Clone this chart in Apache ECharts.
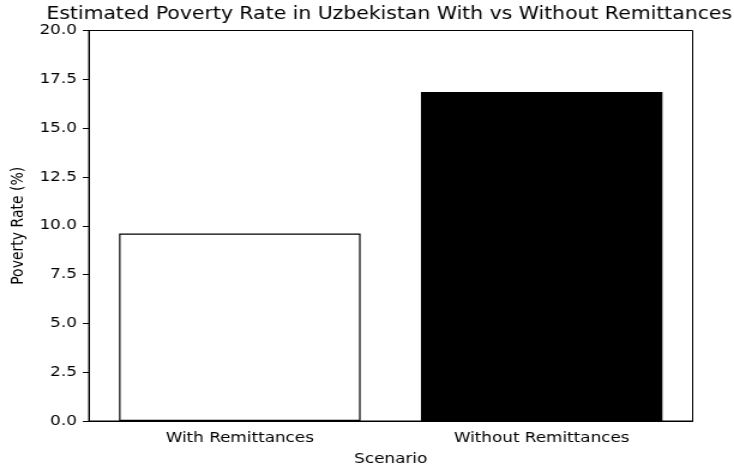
<!DOCTYPE html>
<html>
<head>
<meta charset="utf-8">
<script src="https://cdn.jsdelivr.net/npm/echarts@6/dist/echarts.min.js"></script>
<style>
  html, body { margin: 0; padding: 0; background: #fff; overflow: hidden; }
  #wrap { width: 734px; height: 471px; overflow: hidden; }
  #chart { width: 612px; height: 471px; transform: scaleX(1.19935); transform-origin: 0 0; }
</style>
</head>
<body>
<div id="wrap"><div id="chart"></div></div>
<script>
const titleText = 'Estimated Poverty Rate in Uzbekistan With vs Without Remittances';
const categories = ['With Remittances', 'Without Remittances'];
const povertyRates = [9.6, 16.85];
const barColors = ['#ffffff', '#000000'];
const yAxisName = 'Poverty Rate (%)';
const xAxisName = 'Scenario';

const font = 'DejaVu Sans';
const chart = echarts.init(document.getElementById('chart'), null, { renderer: 'canvas' });
chart.setOption({
  animation: false,
  backgroundColor: '#fff',
  title: {
    text: titleText,
    left: 324.5,
    textAlign: 'center',
    top: 6,
    padding: 0,
    textStyle: { fontFamily: font, fontSize: 17, fontWeight: 'normal', color: '#000' }
  },
  grid: {
    left: 73.3, right: 34.5, top: 30.5, bottom: 47,
    show: true, borderColor: '#000', borderWidth: 1, backgroundColor: 'transparent'
  },
  xAxis: {
    type: 'category',
    data: categories,
    name: xAxisName,
    nameLocation: 'middle',
    nameGap: 31,
    nameTextStyle: { fontFamily: font, fontSize: 14, color: '#000' },
    axisLine: { lineStyle: { color: '#000', width: 1 } },
    axisTick: { alignWithLabel: true, length: 5, lineStyle: { color: '#000' } },
    axisLabel: { fontFamily: font, fontSize: 14, color: '#000', margin: 10 },
    splitLine: { show: false }
  },
  yAxis: {
    type: 'value',
    min: 0, max: 20, interval: 2.5,
    name: yAxisName,
    nameLocation: 'middle',
    nameRotate: 90,
    nameGap: 47,
    nameTextStyle: { fontFamily: font, fontSize: 14, color: '#000' },
    axisLine: { show: true, lineStyle: { color: '#000', width: 1 } },
    axisTick: { show: true, length: 5, lineStyle: { color: '#000' } },
    axisLabel: { fontFamily: font, fontSize: 14, color: '#000', margin: 10,
                 formatter: v => v.toFixed(1) },
    splitLine: { show: false }
  },
  series: [{
    type: 'bar',
    barWidth: '80%',
    data: povertyRates.map((v, i) => ({
      value: v,
      itemStyle: { color: barColors[i], borderColor: '#000', borderWidth: 1.2 }
    }))
  }]
});
</script>
</body>
</html>
